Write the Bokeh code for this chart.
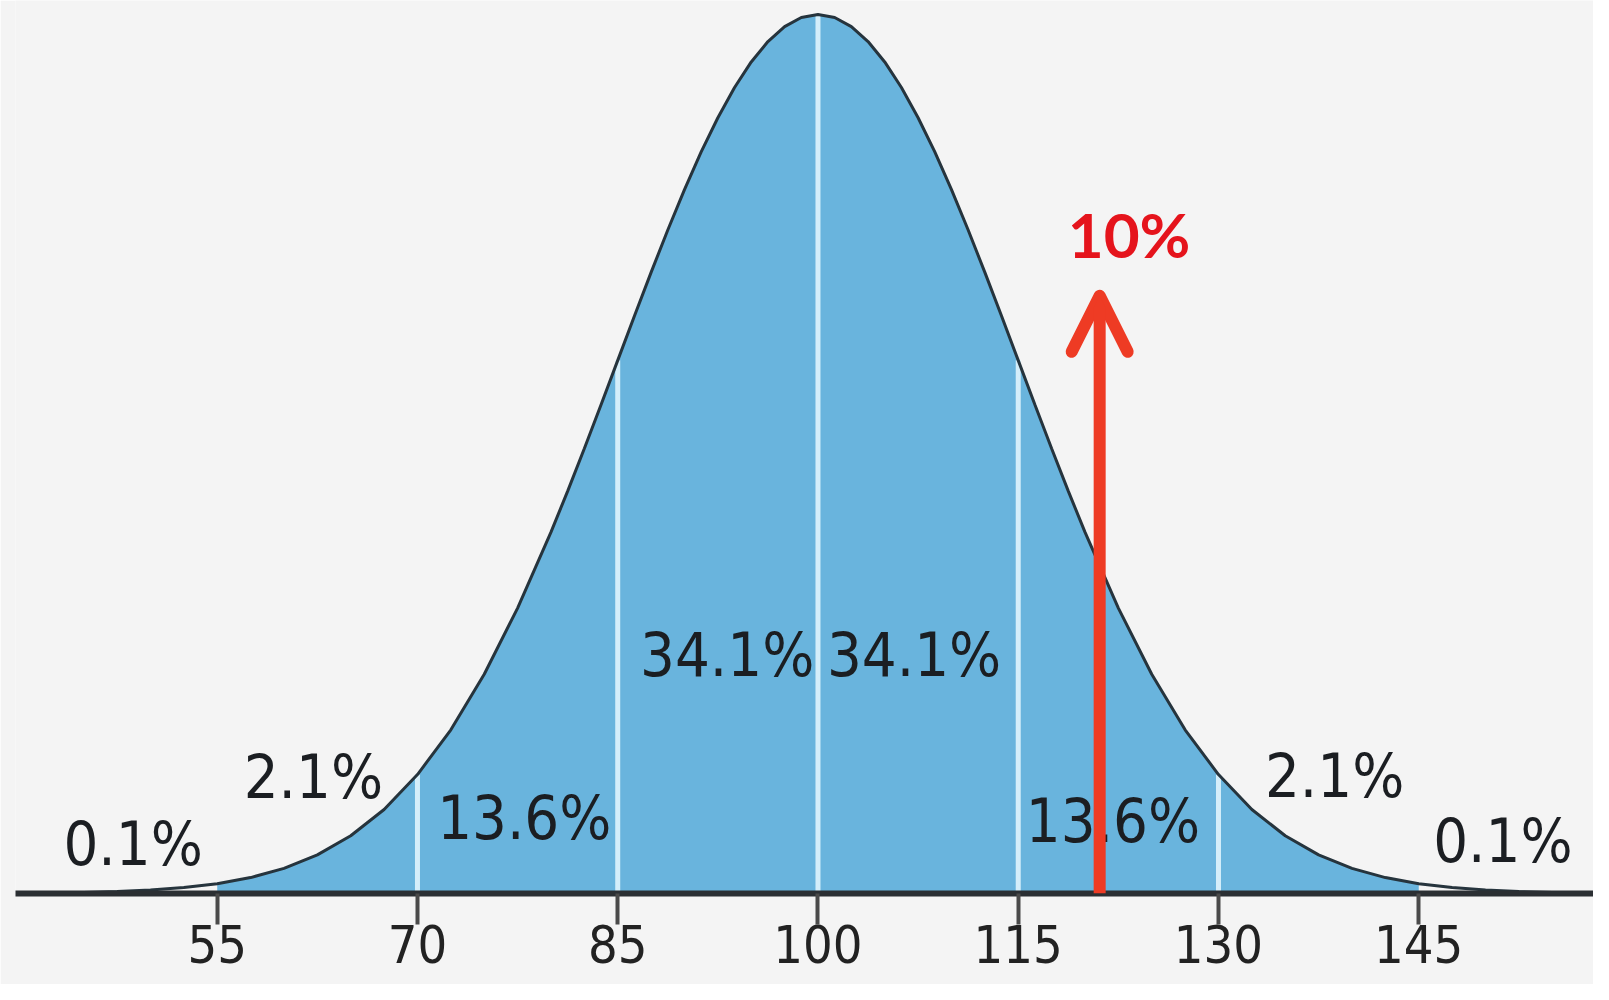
from bokeh.plotting import figure
from bokeh.models import ColumnDataSource, Range1d, FixedTicker, Arrow, OpenHead
from bokeh.core.properties import value
from bokeh.embed import file_html
from bokeh.resources import INLINE

# IQ scale (x) and relative curve height (peak = 1)
curve_x = [40, 42.5, 45, 47.5, 50, 52.5, 55, 57.5, 60, 62.5, 65, 67.5, 70, 72.5, 75, 77.5, 80,
           81.25, 82.5, 83.75, 85, 86.25, 87.5, 88.75, 90, 91.25, 92.5, 93.75, 95, 96.25, 97.5, 98.75,
           100, 101.25, 102.5, 103.75, 105, 106.25, 107.5, 108.75, 110, 111.25, 112.5, 113.75,
           115, 116.25, 117.5, 118.75, 120, 122.5, 125, 127.5, 130, 132.5, 135, 137.5, 140,
           142.5, 145, 147.5, 150, 152.5, 155, 157.5, 160]
curve_h = [0.0003, 0.0007, 0.0012, 0.0022, 0.0039, 0.0067, 0.0111, 0.0181, 0.0286, 0.0439, 0.0657,
           0.0956, 0.1353, 0.1862, 0.2494, 0.3247, 0.4111,
           0.4578, 0.5063, 0.5561, 0.6065, 0.6570, 0.7066, 0.7548, 0.8007, 0.8436, 0.8825, 0.9169,
           0.9460, 0.9692, 0.9862, 0.9965,
           1.0, 0.9965, 0.9862, 0.9692, 0.9460, 0.9169, 0.8825, 0.8436, 0.8007, 0.7548, 0.7066,
           0.6570, 0.6065, 0.5561, 0.5063, 0.4578, 0.4111, 0.3247, 0.2494, 0.1862, 0.1353, 0.0956,
           0.0657, 0.0439, 0.0286, 0.0181, 0.0111, 0.0067, 0.0039, 0.0022, 0.0012, 0.0007, 0.0003]

fill_from, fill_to = 55, 145
divider_x = [70, 85, 100, 115, 130]
tick_values = [55, 70, 85, 100, 115, 130, 145]

label_text = ["0.1%", "2.1%", "13.6%", "34.1%", "34.1%", "13.6%", "2.1%", "0.1%"]
label_x = [48.7, 62.2, 78.0, 93.2, 107.2, 122.1, 138.7, 151.3]
label_y = [0.057, 0.133, 0.086, 0.272, 0.272, 0.083, 0.134, 0.060]

marker_x = 121.1
marker_top = 0.680
marker_text = "10%"
marker_text_x = 123.3
marker_text_y = 0.750

BG = "#f4f4f4"
BLUE = "#69b4dd"
RED_ARROW = "#ee3b24"
RED_TEXT = "#e5141c"

p = figure(width=1593, height=984,
           x_range=Range1d(39.89, 158.09), y_range=Range1d(0, 1.0159),
           output_backend="svg", toolbar_location=None,
           min_border_left=15, min_border_right=0, min_border_top=0, min_border_bottom=91,
           y_axis_location=None,
           background_fill_color=BG, border_fill_color=BG, outline_line_color=None)
p.grid.visible = False

# filled band 55..145
fx = [x for x in curve_x if fill_from <= x <= fill_to]
fh = [h for x, h in zip(curve_x, curve_h) if fill_from <= x <= fill_to]
p.varea(x=fx, y1=[0] * len(fx), y2=fh, fill_color=BLUE)

# white dividers at each standard deviation
dh = [curve_h[curve_x.index(x)] for x in divider_x]
p.segment(x0=divider_x, y0=[0] * len(divider_x), x1=divider_x, y1=dh,
          line_color="#d4eefa", line_width=5)

# curve outline
p.line(curve_x, curve_h, line_color="#26343d", line_width=3)

# percentage labels
src = ColumnDataSource(dict(x=label_x, y=label_y, t=label_text))
p.text(x="x", y="y", text="t", source=src, text_align="center", text_baseline="middle",
       text_font=value("DejaVu Sans Condensed"), text_font_size="61px", text_color="#1b1e22")

# red marker arrow
p.add_layout(Arrow(end=OpenHead(size=56, line_color=RED_ARROW, line_width=12, line_cap="round",
                                line_join="round"),
                   x_start=marker_x, y_start=0, x_end=marker_x, y_end=marker_top,
                   line_color=RED_ARROW, line_width=12))
p.text(x=[marker_text_x], y=[marker_text_y], text=[marker_text], text_align="center",
       text_baseline="middle", text_font=value("Lato"), text_font_style="bold",
       text_font_size="62px", text_color=RED_TEXT)

ax = p.xaxis[0]
ax.ticker = FixedTicker(ticks=tick_values)
ax.axis_line_color = "#2b2f33"
ax.axis_line_width = 6
ax.major_tick_line_color = "#4a4a4a"
ax.major_tick_line_width = 4
ax.major_tick_in = 0
ax.major_tick_out = 31
ax.minor_tick_line_color = None
ax.major_label_standoff = 0
ax.major_label_text_font = "DejaVu Sans Condensed"
ax.major_label_text_font_size = "52px"
ax.major_label_text_color = "#222222"

open("out.html", "w").write(file_html(p, INLINE))
